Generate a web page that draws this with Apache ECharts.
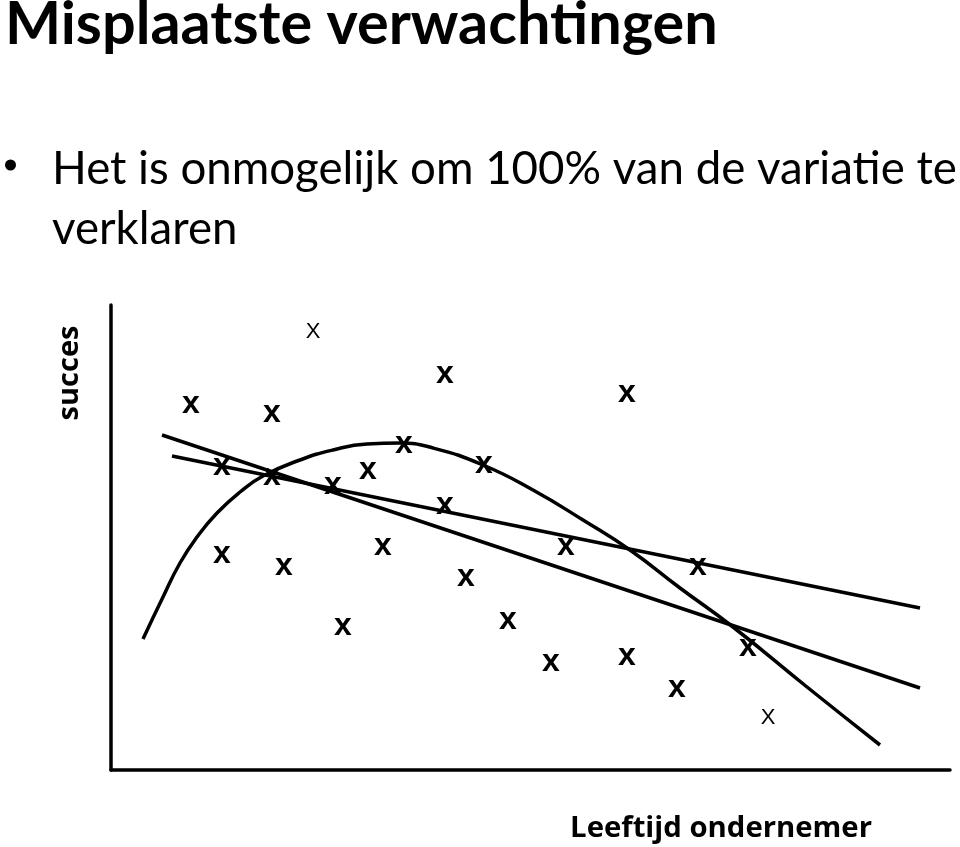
<!DOCTYPE html>
<html>
<head>
<meta charset="utf-8">
<script src="https://cdn.jsdelivr.net/npm/echarts@6/dist/echarts.min.js"></script>
<style>html,body{margin:0;padding:0;background:#fff}#c{width:960px;height:847px}</style>
</head>
<body>
<div id="c"></div>
<script>
// Marker positions (x = leeftijd, y = succes)
const boldMarks = [
  [80,366],[161,357],[334,396],[516,377],[111,304],[161,294],[222,285],[257,300],
  [293,326],[373,306],[334,265],[111,216],[173,204],[272,224],[355,193],[455,224],
  [587,204],[232,144],[397,150],[440,108],[516,114],[566,82],[637,123]
];
const thinMarks = [[202,438],[657,52]];
// Straight fit lines
const lineA = [[61,314],[809,162]];
const lineB = [[51,335],[809,82]];
// Curved fit
const curve = [
  [32,131],[52,173],[69,207],[86,233],[106,257],[129,278],[152,294],[189,310],
  [222,320],[256,326],[289,327],[322,322],[372,305],[422,280],[472,250],[519,220],
  [569,182],[622,143],[696,83],[769,25]
];
const xRange = [0, 839];
const yRange = [0, 465];
const titleText = 'Misplaatste verwachtingen';
const bulletLines = ['Het is onmogelijk om 100% van de variatie te', 'verklaren'];
const xName = 'Leeftijd ondernemer';
const yName = 'succes';

const ctx = document.createElement('canvas').getContext('2d');
function fit(text, weight, family, target) {
  ctx.font = weight + ' 100px ' + family;
  return 100 * target / ctx.measureText(text).width;
}
const F1 = 'Lato, "Noto Sans"';
const F2 = '"Open Sans", "Noto Sans"';
const tSize = fit(titleText, 'bold', F1, 713);
const bSize = fit(bulletLines[0], 'normal', F1, 905);
const xSize = fit(xName, 'bold', F2, 302);
const ySize = fit(yName, 'bold', F2, 95);

const chart = echarts.init(document.getElementById('c'));
const axisLine = {show:true, lineStyle:{color:'#000', width:3.5}};
const labelBase = {show:true, position:'inside', color:'#000', opacity:1, textBorderWidth:0, fontFamily:'"Liberation Sans", Arial'};
chart.setOption({
  animation:false,
  backgroundColor:'#fff',
  grid:{left:111, top:305, width:839, height:465},
  xAxis:{type:'value', min:xRange[0], max:xRange[1], axisLine:axisLine, axisTick:{show:false}, axisLabel:{show:false}, splitLine:{show:false}},
  yAxis:{type:'value', min:yRange[0], max:yRange[1], axisLine:axisLine, axisTick:{show:false}, axisLabel:{show:false}, splitLine:{show:false}},
  graphic:[
    {type:'text', x:5, y:25, style:{text:titleText, font:'bold ' + tSize + 'px ' + F1, fill:'#000', verticalAlign:'middle'}},
    {type:'circle', shape:{cx:10.5, cy:165, r:5.5}, style:{fill:'#000'}},
    {type:'text', x:52, y:169, style:{text:bulletLines[0], font:bSize + 'px ' + F1, fill:'#000', verticalAlign:'middle'}},
    {type:'text', x:52, y:229, style:{text:bulletLines[1], font:bSize + 'px ' + F1, fill:'#000', verticalAlign:'middle'}},
    {type:'text', x:70, y:373, rotation:Math.PI/2, style:{text:yName, font:'bold ' + ySize + 'px ' + F2, fill:'#000', align:'center', verticalAlign:'middle'}},
    {type:'text', x:872, y:829, style:{text:xName, font:'bold ' + xSize + 'px ' + F2, fill:'#000', align:'right', verticalAlign:'middle'}}
  ],
  series:[
    {type:'line', data:curve, smooth:0.5, showSymbol:false, lineStyle:{color:'#000', width:3.5}, z:2},
    {type:'line', data:lineA, showSymbol:false, lineStyle:{color:'#000', width:3.5}, z:2},
    {type:'line', data:lineB, showSymbol:false, lineStyle:{color:'#000', width:3.5}, z:2},
    {type:'scatter', data:boldMarks, symbolSize:1, itemStyle:{color:'rgba(0,0,0,0)'}, z:3,
      label:Object.assign({}, labelBase, {formatter:'x', fontWeight:'bold', fontSize:32, offset:[0,0]})},
    {type:'scatter', data:thinMarks, symbolSize:1, itemStyle:{color:'rgba(0,0,0,0)'}, z:3,
      label:Object.assign({}, labelBase, {formatter:'X', fontWeight:'normal', fontSize:22, offset:[0,0]})}
  ]
});
</script>
</body>
</html>
